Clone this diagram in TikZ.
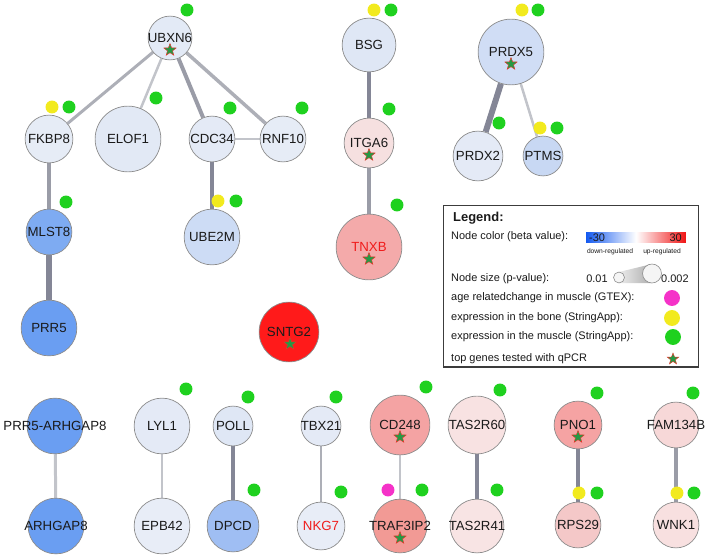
\documentclass[tikz,border=0pt]{standalone}
\usepackage{fontspec}
\setmainfont{Liberation Sans}
\usetikzlibrary{shapes.geometric,backgrounds}
\definecolor{nborder}{HTML}{8C8C8C}
\definecolor{gtext}{HTML}{1A1A1A}
\definecolor{labred}{HTML}{F01C1C}
\definecolor{dgreen}{HTML}{1FD11F}
\definecolor{dyellow}{HTML}{F2EA1E}
\definecolor{dmag}{HTML}{F532C8}
\definecolor{sgreen}{HTML}{249A45}
\definecolor{sred}{HTML}{E5352A}
\definecolor{ea}{HTML}{C2C4CA}
\definecolor{eb}{HTML}{ADAFB7}
\definecolor{ec}{HTML}{9A9CA7}
\definecolor{ed}{HTML}{848696}
\newcommand\gfont{\fontsize{13.3}{15}\selectfont}
\newcommand\lfont{\fontsize{11}{13}\selectfont}
\begin{document}
\begin{tikzpicture}[x=1bp,y=-1bp,
  gene/.style={circle, draw=nborder, line width=0.7, inner sep=0, minimum size=#1},
  every label/.style={font=\gfont, text=gtext, inner sep=0},
  dot/.style={circle, inner sep=0, minimum size=13, fill=#1},
  qstar/.style={star, star points=5, star point ratio=2.4, inner sep=0, minimum size=13, fill=sgreen, draw=sred, line width=0.45},
  ela/.style={draw=ea, line width=2},
  elb/.style={draw=eb, line width=3},
  elc/.style={draw=ec, line width=4},
  eld/.style={draw=ed, line width=5},
  ltext/.style={anchor=west, font=\lfont, text=gtext, inner sep=0}]
\useasboundingbox (0,0) rectangle (709,556);
% genes
\node[gene=44, fill={rgb,255:red,227;green,234;blue,246}, label={center:UBXN6}] (ubxn6) at (170,38) {};
\node[gene=48, fill={rgb,255:red,230;green,236;blue,246}, label={center:FKBP8}] (fkbp8) at (49,139) {};
\node[gene=66, fill={rgb,255:red,226;green,233;blue,245}, label={center:ELOF1}] (elof1) at (128,139) {};
\node[gene=46, fill={rgb,255:red,228;green,234;blue,246}, label={center:CDC34}] (cdc34) at (212,139) {};
\node[gene=46, fill={rgb,255:red,230;green,236;blue,246}, label={center:RNF10}] (rnf10) at (283,139) {};
\node[gene=46, fill={rgb,255:red,126;green,171;blue,242}, label={center:MLST8}] (mlst8) at (49,232) {};
\node[gene=56, fill={rgb,255:red,205;green,220;blue,245}, label={center:UBE2M}] (ube2m) at (212,237) {};
\node[gene=56, fill={rgb,255:red,106;green,158;blue,242}, label={center:PRR5}] (prr5) at (49,328) {};
\node[gene=54, fill={rgb,255:red,223;green,231;blue,245}, label={center:BSG}] (bsg) at (369,45) {};
\node[gene=50, fill={rgb,255:red,246;green,224;blue,224}, label={center:ITGA6}] (itga6) at (369,143) {};
\node[gene=66, fill={rgb,255:red,244;green,170;blue,170}, label={[text=labred]center:TNXB}] (tnxb) at (369,247) {};
\node[gene=66, fill={rgb,255:red,208;green,221;blue,245}, label={center:PRDX5}] (prdx5) at (511,52) {};
\node[gene=50, fill={rgb,255:red,228;green,234;blue,246}, label={center:PRDX2}] (prdx2) at (478,156) {};
\node[gene=40, fill={rgb,255:red,200;green,216;blue,243}, label={center:PTMS}] (ptms) at (543,156) {};
\node[gene=60, fill={rgb,255:red,255;green,26;blue,26}, label={center:SNTG2}] (sntg2) at (289,332) {};
\node[gene=56, fill={rgb,255:red,106;green,158;blue,242}, label={center:PRR5-ARHGAP8}] (prrarh) at (55,426) {};
\node[gene=56, fill={rgb,255:red,106;green,158;blue,242}, label={center:ARHGAP8}] (arhgap8) at (56,526) {};
\node[gene=56, fill={rgb,255:red,228;green,234;blue,246}, label={center:LYL1}] (lyl1) at (162,426) {};
\node[gene=56, fill={rgb,255:red,232;green,237;blue,247}, label={center:EPB42}] (epb42) at (162,526) {};
\node[gene=40, fill={rgb,255:red,223;green,231;blue,245}, label={center:POLL}] (poll) at (233,426) {};
\node[gene=52, fill={rgb,255:red,159;green,190;blue,243}, label={center:DPCD}] (dpcd) at (233,526) {};
\node[gene=40, fill={rgb,255:red,228;green,234;blue,246}, label={center:TBX21}] (tbx21) at (321,426) {};
\node[gene=48, fill={rgb,255:red,232;green,237;blue,247}, label={[text=labred]center:NKG7}] (nkg7) at (321,526) {};
\node[gene=60, fill={rgb,255:red,244;green,163;blue,163}, label={center:CD248}] (cd248) at (400,425) {};
\node[gene=54, fill={rgb,255:red,242;green,154;blue,149}, label={center:TRAF3IP2}] (traf3ip2) at (400,526) {};
\node[gene=58, fill={rgb,255:red,248;green,226;blue,226}, label={center:TAS2R60}] (tas2r60) at (477,425) {};
\node[gene=54, fill={rgb,255:red,248;green,228;blue,228}, label={center:TAS2R41}] (tas2r41) at (477,526) {};
\node[gene=48, fill={rgb,255:red,245;green,163;blue,163}, label={center:PNO1}] (pno1) at (578,425) {};
\node[gene=46, fill={rgb,255:red,244;green,200;blue,200}, label={center:RPS29}] (rps29) at (578,525) {};
\node[gene=46, fill={rgb,255:red,247;green,216;blue,216}, label={center:FAM134B}] (fam134b) at (676,425) {};
\node[gene=46, fill={rgb,255:red,248;green,224;blue,224}, label={center:WNK1}] (wnk1) at (676,525) {};
% edges
\begin{scope}[on background layer]
\draw[elb] (ubxn6) -- (fkbp8);
\draw[ela, line width=2.5] (ubxn6) -- (elof1);
\draw[elc] (ubxn6) -- (cdc34);
\draw[elb, line width=3.5] (ubxn6) -- (rnf10);
\draw[ela, line width=3] (cdc34) -- (rnf10);
\draw[eld] (cdc34) -- (ube2m);
\draw[elc, line width=3.5] (fkbp8) -- (mlst8);
\draw[eld, line width=5.5] (mlst8) -- (prr5);
\draw[eld] (bsg) -- (itga6);
\draw[elc] (itga6) -- (tnxb);
\draw[eld, line width=6] (prdx5) -- (prdx2);
\draw[ela, line width=2.5] (prdx5) -- (ptms);
\draw[ela, line width=3] (prrarh) -- (arhgap8);
\draw[ela] (lyl1) -- (epb42);
\draw[eld] (poll) -- (dpcd);
\draw[elb] (tbx21) -- (nkg7);
\draw[ela] (cd248) -- (traf3ip2);
\draw[eld] (tas2r60) -- (tas2r41);
\draw[eld] (pno1) -- (rps29);
\draw[elc] (fam134b) -- (wnk1);
\end{scope}
% stars
\node[qstar] (s1) at (170,50) {};
\node[qstar] (s2) at (369,155) {};
\node[qstar] (s3) at (369,259) {};
\node[qstar] (s4) at (511,64) {};
\node[qstar] (s5) at (290,344) {};
\node[qstar] (s6) at (400,437) {};
\node[qstar] (s7) at (400,538) {};
\node[qstar] (s8) at (578,437) {};
% dots
\node[dot=dgreen] (d1) at (187,10) {};
\node[dot=dyellow] (d2) at (52,107) {};
\node[dot=dgreen] (d3) at (69,107) {};
\node[dot=dgreen] (d4) at (156,98) {};
\node[dot=dgreen] (d5) at (230,108) {};
\node[dot=dgreen] (d6) at (302,108) {};
\node[dot=dgreen] (d7) at (66,202) {};
\node[dot=dyellow] (d8) at (218,201) {};
\node[dot=dgreen] (d9) at (236,201) {};
\node[dot=dyellow] (d10) at (374,10) {};
\node[dot=dgreen] (d11) at (391,10) {};
\node[dot=dgreen] (d12) at (389,109) {};
\node[dot=dgreen] (d13) at (397,205) {};
\node[dot=dyellow] (d14) at (522,10) {};
\node[dot=dgreen] (d15) at (538,10) {};
\node[dot=dgreen] (d16) at (499,123) {};
\node[dot=dyellow] (d17) at (540,128) {};
\node[dot=dgreen] (d18) at (557,128) {};
\node[dot=dgreen] (d19) at (186,389) {};
\node[dot=dgreen] (d20) at (248,397) {};
\node[dot=dgreen] (d21) at (254,490) {};
\node[dot=dgreen] (d22) at (336,397) {};
\node[dot=dgreen] (d23) at (341,492) {};
\node[dot=dgreen] (d24) at (426,387) {};
\node[dot=dmag] (d25) at (388,490) {};
\node[dot=dgreen] (d26) at (422,490) {};
\node[dot=dgreen] (d27) at (500,390) {};
\node[dot=dgreen] (d28) at (497,490) {};
\node[dot=dgreen] (d29) at (597,393) {};
\node[dot=dyellow] (d30) at (579,493) {};
\node[dot=dgreen] (d31) at (597,493) {};
\node[dot=dgreen] (d32) at (693,393) {};
\node[dot=dyellow] (d33) at (677,493) {};
\node[dot=dgreen] (d34) at (694,493) {};
% legend
\node[draw={rgb,255:red,60;green,60;blue,60}, line width=1.3, fill=white, minimum width=256, minimum height=162, inner sep=0, anchor=north west] (legend) at (443,205) {};
\node[ltext, font=\fontsize{13}{15}\selectfont\bfseries] (lt) at (453,218) {Legend:};
\node[ltext] (l1) at (451,237) {Node color (beta value):};
\node[minimum width=100, minimum height=11, inner sep=0, left color={rgb,255:red,20;green,90;blue,240}, right color={rgb,255:red,240;green,20;blue,20}, middle color=white] (bar) at (636,237.5) {};
\node[anchor=west, font=\lfont, text=gtext, inner sep=0] (m30) at (589,237.5) {-30};
\node[anchor=east, font=\lfont, text=gtext, inner sep=0] (p30) at (682,237.5) {30};
\node[font=\fontsize{6.7}{8}\selectfont, text=gtext, inner sep=0] (down) at (610,252) {down-regulated};
\node[font=\fontsize{6.7}{8}\selectfont, text=gtext, inner sep=0] (up) at (662,252) {up-regulated};
\node[ltext] (l2) at (451,279) {Node size (p-value):};
\node[font=\lfont, text=gtext, inner sep=0] (p01) at (597,279) {0.01};
\shade[left color=gray!15, right color=gray!65] (619,272) -- (652,264) -- (652,283) -- (619,283) -- cycle;
\node[circle, draw=nborder, fill=gray!8, line width=0.6, minimum size=11, inner sep=0] (sc) at (619,277.5) {};
\node[circle, draw=nborder, fill=gray!8, line width=0.6, minimum size=19, inner sep=0] (bc) at (652,273.5) {};
\node[ltext] (p002) at (661,279) {0.002};
\node[ltext] (l3) at (451,298) {age relatedchange in muscle (GTEX):};
\node[dot=dmag, minimum size=16] (lm) at (672,298) {};
\node[ltext] (l4) at (451,318) {expression in the bone (StringApp):};
\node[dot=dyellow, minimum size=16] (ly) at (672,318) {};
\node[ltext] (l5) at (451,337) {expression in the muscle (StringApp):};
\node[dot=dgreen, minimum size=16] (lg) at (673,337) {};
\node[ltext] (l6) at (451,359) {top genes tested with qPCR};
\node[qstar, minimum size=12] (ls) at (673,359) {};
\end{tikzpicture}
\end{document}
